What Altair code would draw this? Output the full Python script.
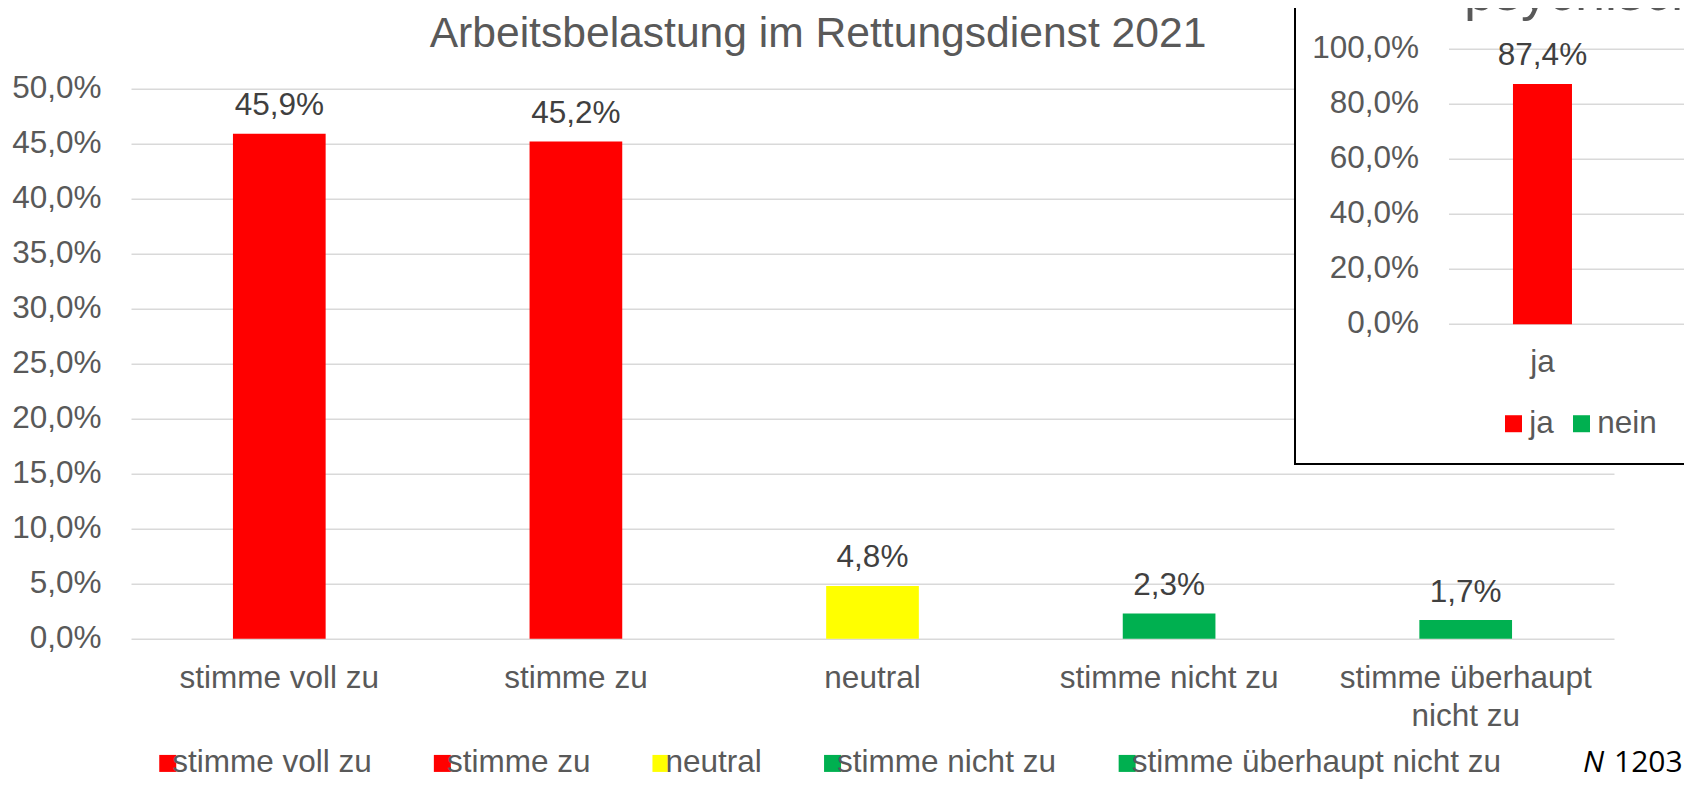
import altair as alt
import pandas as pd

# ---------------- data ----------------
CATEGORIES = ["stimme voll zu", "stimme zu", "neutral", "stimme nicht zu", "stimme überhaupt nicht zu"]
VALUES = [45.9, 45.2, 4.8, 2.3, 1.7]
COLORS = ["#FF0000", "#FF0000", "#FFFF00", "#00B050", "#00B050"]
Y_TICKS = [0, 5, 10, 15, 20, 25, 30, 35, 40, 45, 50]

INSET_CATEGORIES = ["ja", "nein"]
INSET_VALUES = [87.4, 12.6]
INSET_COLORS = ["#FF0000", "#00B050"]
INSET_TICKS = [0, 20, 40, 60, 80, 100]

TITLE = "Arbeitsbelastung im Rettungsdienst 2021"
INSET_TITLE = "psychische Belastung"
N_LABEL = "N"
N_VALUE = "1203"

FONT = "Liberation Sans"
GREY = "#595959"
DARK = "#404040"
GRID = "#D9D9D9"
FS = 31.5

PCT = "replace(format(datum.value, '.1f'), '.', ',') + '%'"
PCT_FIELD = "replace(format(datum.Anteil, '.1f'), '.', ',') + '%'"

# ---------------- main chart ----------------
main_df = pd.DataFrame({"Antwort": CATEGORIES, "Anteil": VALUES})
one = pd.DataFrame({"k": [0]})

x_main = alt.X(
    "Antwort:N",
    sort=CATEGORIES,
    scale=alt.Scale(type="band", paddingInner=0.6875, paddingOuter=0.34375),
    axis=alt.Axis(
        title=None, labelFont=FONT, labelFontSize=FS, labelColor=GREY,
        labelPadding=24, ticks=False, tickSize=0, domain=False, labelAngle=0,
        labelLimit=600, labelLineHeight=37.6,
        labelExpr="datum.value == 'stimme überhaupt nicht zu' ? ['stimme überhaupt', 'nicht zu'] : datum.label",
    ),
)
y_main = alt.Y(
    "Anteil:Q",
    scale=alt.Scale(domain=[0, 50], nice=False),
    axis=alt.Axis(
        title=None, values=Y_TICKS, labelExpr=PCT, labelFont=FONT, labelFontSize=FS,
        labelColor=GREY, labelPadding=30, ticks=False, tickSize=0, domain=False,
        grid=True, gridColor=GRID, gridWidth=1.5,
    ),
)

bars = alt.Chart(main_df).mark_bar().encode(
    x=x_main,
    y=y_main,
    color=alt.Color(
        "Antwort:N", sort=CATEGORIES,
        scale=alt.Scale(domain=CATEGORIES, range=COLORS),
        legend=alt.Legend(
            title=None, orient="none", legendX=21.0, legendY=658.6, direction="horizontal",
            columns=5, symbolType="square", symbolSize=289, symbolStrokeWidth=0,
            labelFont=FONT, labelFontSize=FS, labelColor=GREY,
            labelOffset=alt.ExprRef(expr="-11.2"),
            columnPadding=54.6, labelLimit=600, padding=0,
        ),
    ),
)
bar_labels = alt.Chart(main_df).transform_calculate(lab=PCT_FIELD).mark_text(
    font=FONT, fontSize=FS, color=DARK, baseline="alphabetic", dy=-18.5
).encode(x=x_main, y=y_main, text="lab:N")

title_text = alt.Chart(one).mark_text(
    font=FONT, fontSize=42.6, color=GREY, align="center", baseline="alphabetic"
).encode(x=alt.value(687), y=alt.value(-41.5), text=alt.value(TITLE))

main = alt.layer(bars, bar_labels, title_text)

# ---------------- inset chart ----------------
inset_df = pd.DataFrame({"Antwort": INSET_CATEGORIES, "Anteil": INSET_VALUES})
inset_ticks_df = pd.DataFrame({"Anteil": INSET_TICKS})

ix = alt.X("Antwort:N", sort=INSET_CATEGORIES,
           scale=alt.Scale(type="band", range=[1318, 1692], paddingInner=0.6845, paddingOuter=0.342),
           axis=None)
iy = alt.Y("Anteil:Q", scale=alt.Scale(domain=[0, 100], range=[235.6, -39.4], nice=False), axis=None)

frame = alt.Chart(one).mark_rect(fill="white", stroke="black", strokeWidth=2).encode(
    x=alt.value(1164), x2=alt.value(1800), y=alt.value(-200), y2=alt.value(375.3)
)
inset_title = alt.Chart(one).mark_text(
    font=FONT, fontSize=54, color=GREY, align="left", baseline="alphabetic"
).encode(x=alt.value(1333), y=alt.value(-78.7), text=alt.value(INSET_TITLE))

inset_grid = alt.Chart(inset_ticks_df).mark_rule(color=GRID, strokeWidth=1.5).encode(
    y=iy, x=alt.value(1318), x2=alt.value(1700)
)
inset_axis_labels = alt.Chart(inset_ticks_df).transform_calculate(lab=PCT_FIELD).mark_text(
    font=FONT, fontSize=FS, color=GREY, align="right", baseline="middle"
).encode(y=iy, x=alt.value(1288), text="lab:N")

inset_bars = alt.Chart(inset_df).mark_bar().encode(
    x=ix, y=iy,
    color=alt.Color(
        "Antwort:N", sort=INSET_CATEGORIES,
        scale=alt.Scale(domain=INSET_CATEGORIES, range=INSET_COLORS),
        legend=alt.Legend(
            title=None, orient="none", legendX=1366.75, legendY=318.9, direction="horizontal",
            columns=2, symbolType="square", symbolSize=289, symbolStrokeWidth=0,
            labelFont=FONT, labelFontSize=FS, labelColor=GREY, labelOffset=0,
            columnPadding=11, labelLimit=300, padding=0,
        ),
    ),
)
inset_bar_labels = alt.Chart(inset_df).transform_calculate(lab=PCT_FIELD).mark_text(
    font=FONT, fontSize=FS, color=DARK, baseline="alphabetic", dy=-19
).encode(x=ix, y=iy, text="lab:N")
inset_cat_labels = alt.Chart(inset_df).mark_text(
    font=FONT, fontSize=FS, color=GREY, baseline="alphabetic"
).encode(x=ix, y=alt.value(283.5), text="Antwort:N")

inset = alt.layer(frame, inset_title, inset_grid, inset_axis_labels, inset_bars,
                  inset_bar_labels, inset_cat_labels)

# ---------------- sample size note ----------------
note_n = alt.Chart(one).mark_text(
    font="Open Sans", fontSize=30, color="black", fontStyle="italic", align="left", baseline="alphabetic"
).encode(x=alt.value(1452), y=alt.value(682.8), text=alt.value(N_LABEL))
note_v = alt.Chart(one).mark_text(
    font="Open Sans", fontSize=30, color="black", align="left", baseline="alphabetic"
).encode(x=alt.value(1483), y=alt.value(682.8), text=alt.value(N_VALUE))
note = alt.layer(note_n, note_v)

chart = alt.layer(main, inset, note).resolve_scale(
    x="independent", y="independent", color="independent"
).properties(
    width=1483,
    height=550,
    autosize=alt.AutoSizeParams(type="none"),
    padding={"left": 123, "top": 80.7, "right": 70, "bottom": 140.3},
).configure_view(strokeWidth=0)

chart.save("out.html", embed_options={"renderer": "svg", "actions": False})
